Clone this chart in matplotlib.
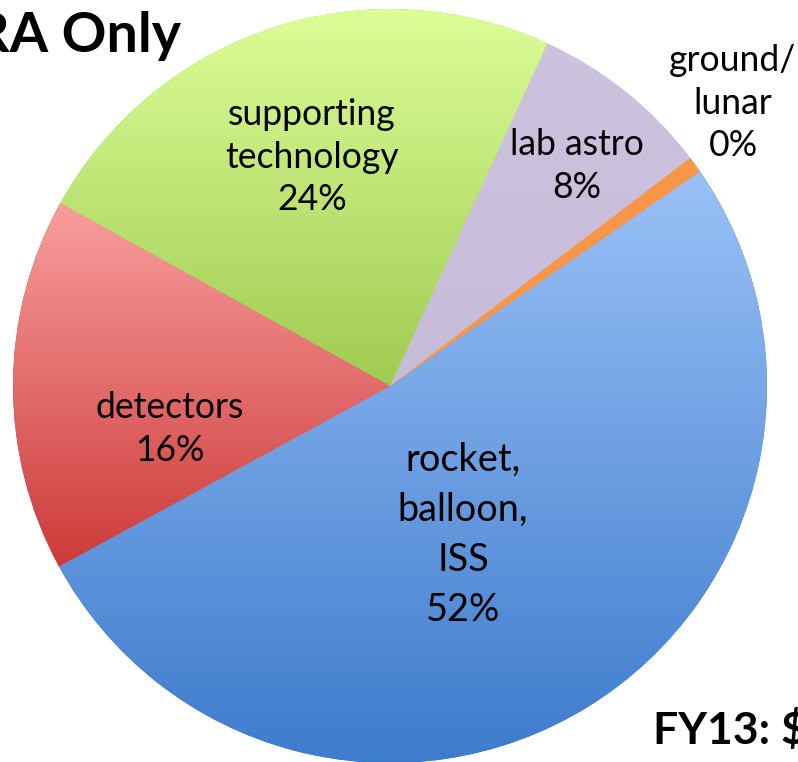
import numpy as np
import matplotlib
matplotlib.use("Agg")
import matplotlib.pyplot as plt
from matplotlib.colors import to_rgb

# ---- data ----
categories = ["rocket,\nballoon,\nISS", "ground/\nlunar", "lab astro", "supporting\ntechnology", "detectors"]
values = [51.7, 0.7, 7.8, 23.8, 16.0]
pct_labels = ["52%", "0%", "8%", "24%", "16%"]
top_colors = ["#9AC1F7", "#F79646", "#CEC3DF", "#DDFF99", "#F99E9E"]
bottom_colors = ["#3D7BCC", "#F79646", "#C6BBD8", "#A0CB52", "#CC3B39"]

W, H = 798, 762
fig = plt.figure(figsize=(W / 100, H / 100), dpi=100)
ax = fig.add_axes([0, 0, 1, 1])

cx, cy, r = 390, H - 386, 377
wedges, _ = ax.pie(values, startangle=208.6, counterclock=True, center=(cx, cy), radius=r,
                   colors=bottom_colors, wedgeprops=dict(linewidth=0, antialiased=True))

for w, c1, c2 in zip(wedges, top_colors, bottom_colors):
    verts = w.get_path().vertices
    xmin, xmax = verts[:, 0].min(), verts[:, 0].max()
    ymin, ymax = verts[:, 1].min(), verts[:, 1].max()
    t = np.linspace(0, 1, 256)[:, None]
    a, b = np.array(to_rgb(c2)), np.array(to_rgb(c1))
    img = (a[None, :] * (1 - t) + b[None, :] * t)[:, None, :]
    im = ax.imshow(img, extent=(xmin, xmax, ymin, ymax), origin="lower", aspect="auto",
                   interpolation="bilinear", zorder=w.get_zorder() + 0.1)
    im.set_clip_path(w)

ax.set_xlim(0, W)
ax.set_ylim(0, H)
ax.set_aspect("equal")
ax.axis("off")

font = "Lato"
label_pos = [(463, 535, 27.3, 1.48), (733, 103, 25.6, 1.36), (577, 166, 25.6, 1.36),
             (312, 157, 25.6, 1.36), (170, 429, 25.6, 1.36)]
for cat, pct, (x, y, fs, ls) in zip(categories, pct_labels, label_pos):
    ax.text(x, H - y, f"{cat}\n{pct}", ha="center", va="center", fontsize=fs,
            family=font, color="black", linespacing=ls, zorder=10)

ax.text(181, H - 36, "RA Only", ha="right", va="center", fontsize=40, fontweight="bold",
        family=font, color="black", zorder=10)
ax.text(653, H - 730, "FY13: $", ha="left", va="center", fontsize=32, fontweight="bold",
        family=font, color="black", zorder=10)

fig.savefig("out.png", dpi=100)
